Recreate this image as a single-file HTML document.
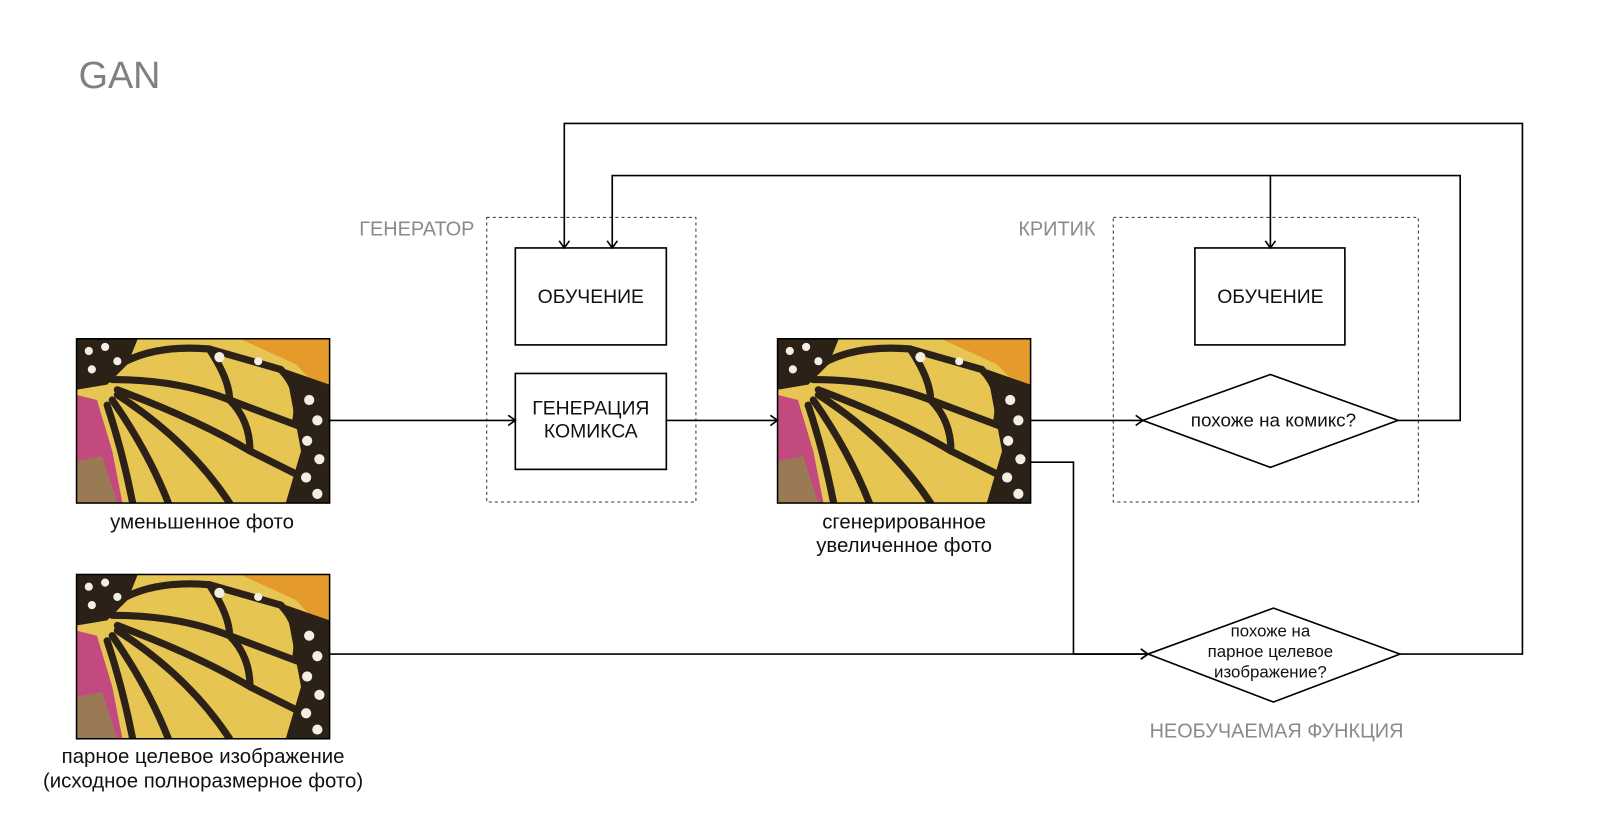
<!DOCTYPE html>
<html><head><meta charset="utf-8"><style>
html,body{margin:0;padding:0;background:#fff;width:1600px;height:836px;overflow:hidden}
svg{display:block}
text{font-family:"Liberation Sans","DejaVu Sans",sans-serif}
</style></head><body>
<svg width="1600" height="836" viewBox="0 0 1568 819.3" xmlns="http://www.w3.org/2000/svg">
<defs>
<marker id="a" markerWidth="12" markerHeight="12" refX="9" refY="6" orient="auto" markerUnits="userSpaceOnUse">
<path d="M2,1 L9,6 L2,11" fill="none" stroke="#000" stroke-width="1.6"/>
</marker>
<clipPath id="c"><rect x="0" y="0" width="248" height="161"/></clipPath>
<g id="bf">
<g clip-path="url(#c)">
<rect width="248" height="161" fill="#e6c553"/>
<polygon points="0,55 20,60 35,110 45,161 0,161" fill="#c24a7e"/>
<polygon points="0,120 25,115 40,161 0,161" fill="#9a7a55"/>
<polygon points="160,0 248,0 248,60 215,25" fill="#e59a2c"/>
<polygon points="0,0 60,0 50,25 30,45 0,50" fill="#2b2116"/>
<g stroke="#2b2116" stroke-width="7" fill="none" stroke-linecap="round">
<path d="M35,30 Q70,5 130,10 L200,30"/>
<path d="M35,40 Q100,40 150,60 L230,90"/>
<path d="M40,50 Q120,80 170,110 L230,140"/>
<path d="M40,55 Q110,100 150,161"/>
<path d="M35,60 Q70,110 90,161"/>
<path d="M30,65 Q45,110 55,161"/>
<path d="M150,60 Q170,80 170,110"/>
<path d="M130,10 Q150,40 150,60"/>
<path d="M200,30 Q220,50 215,80"/>
</g>
<polygon points="205,30 248,45 248,161 205,161 220,110" fill="#2b2116"/>
<g fill="#f4efe4">
<circle cx="228" cy="60" r="5"/><circle cx="236" cy="80" r="5"/><circle cx="226" cy="100" r="5"/><circle cx="238" cy="118" r="5"/><circle cx="225" cy="136" r="5"/><circle cx="236" cy="152" r="5"/>
<circle cx="12" cy="12" r="4"/><circle cx="28" cy="8" r="4"/><circle cx="15" cy="30" r="4"/><circle cx="40" cy="22" r="4"/><circle cx="140" cy="18" r="5"/><circle cx="178" cy="22" r="4"/>
</g>
</g>
<rect x="0" y="0" width="248" height="161" fill="none" stroke="#000" stroke-width="1.5"/>
</g>
</defs>

<text x="77" y="86" font-size="37" fill="#808080">GAN</text>

<use href="#bf" x="75" y="332"/>
<use href="#bf" x="762" y="332"/>
<use href="#bf" x="75" y="563"/>

<g fill="none" stroke="#333" stroke-width="1" stroke-dasharray="3,3">
<rect x="477" y="213" width="205" height="279"/>
<rect x="1091" y="213" width="299" height="279"/>
</g>

<g fill="#fff" stroke="#000" stroke-width="1.6">
<rect x="505" y="243" width="148" height="95"/>
<rect x="505" y="366" width="148" height="94"/>
<rect x="1171" y="243" width="147" height="95"/>
<polygon points="1120,412 1245,367 1370,412 1245,458"/>
<polygon points="1125,641 1248,596 1372,641 1248,688"/>
</g>

<g fill="none" stroke="#000" stroke-width="1.6" marker-end="url(#a)">
<path d="M323,412 H505"/>
<path d="M653,412 H762"/>
<path d="M1010,412 H1120"/>
<path d="M1370,412 H1431 V172 H600 V243"/>
<path d="M1245,172 V243"/>
<path d="M1372,641 H1492 V121 H553 V243"/>
<path d="M1010,453 H1052 V641 H1125"/>
<path d="M323,641 H1125"/>
</g>

<g font-size="19" fill="#111" text-anchor="middle">
<text x="579" y="297">ОБУЧЕНИЕ</text>
<text x="579" y="406">ГЕНЕРАЦИЯ</text>
<text x="579" y="429">КОМИКСА</text>
<text x="1245" y="297">ОБУЧЕНИЕ</text>
<text x="198" y="518" font-size="20">уменьшенное фото</text>
<text x="886" y="518" font-size="20">сгенерированное</text>
<text x="886" y="541" font-size="20">увеличенное фото</text>
<text x="199" y="748" font-size="20">парное целевое изображение</text>
<text x="199" y="772" font-size="20">(исходное полноразмерное фото)</text>
<text x="1248" y="418" font-size="18.5">похоже на комикс?</text>
<text x="1245" y="624" font-size="16.5">похоже на</text>
<text x="1245" y="644" font-size="16.5">парное целевое</text>
<text x="1245" y="664" font-size="16.5">изображение?</text>
</g>
<g font-size="19.5" fill="#8a8a8a">
<text x="352" y="231">ГЕНЕРАТОР</text>
<text x="998" y="231">КРИТИК</text>
<text x="1251" y="723" text-anchor="middle">НЕОБУЧАЕМАЯ ФУНКЦИЯ</text>
</g>
</svg>
</body></html>
